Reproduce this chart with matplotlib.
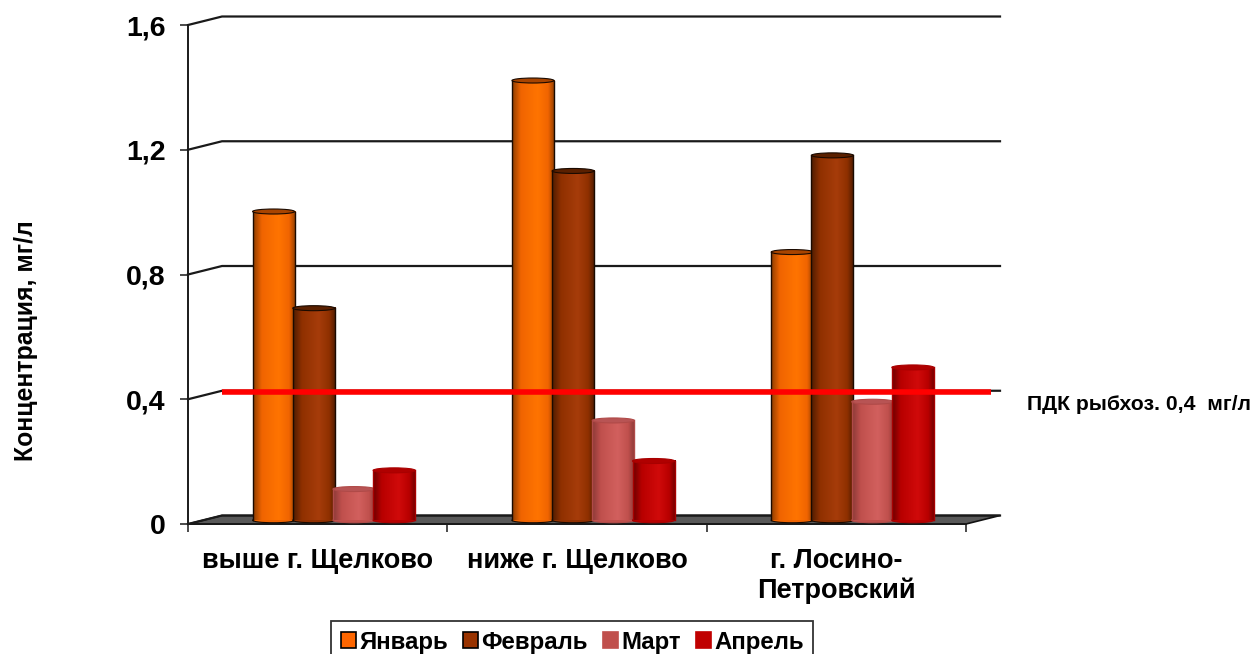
import matplotlib
matplotlib.use("Agg")
import matplotlib.pyplot as plt
from matplotlib.colors import LinearSegmentedColormap
from matplotlib.patches import Ellipse, Polygon, Patch
import numpy as np

plt.rcParams['font.family'] = ['Liberation Sans', 'DejaVu Sans']
plt.rcParams['font.weight'] = 'bold'

categories = ["выше г. Щелково", "ниже г. Щелково", "г. Лосино-\nПетровский"]
months = ["Январь", "Февраль", "Март", "Апрель"]
january = [0.99, 1.41, 0.86]
february = [0.68, 1.12, 1.17]
march = [0.10, 0.32, 0.38]
april = [0.16, 0.19, 0.49]
yticks = [0, 0.4, 0.8, 1.2, 1.6]
ytick_labels = ["0", "0,4", "0,8", "1,2", "1,6"]
pdk = 0.4

series = [january, february, march, april]
colors = ["#FF6600", "#993300", "#C0504D", "#C00000"]
ramps = [["#8F3E00", "#F06400", "#FF7400", "#F06400", "#8F3E00"],
         ["#4F1C00", "#8F3000", "#A63C0A", "#8F3000", "#4F1C00"],
         ["#8C3A38", "#C0504D", "#D2605E", "#C0504D", "#8C3A38"],
         ["#6E0000", "#B80000", "#D00A0A", "#B80000", "#6E0000"]]
ramp_pos = [0, 0.2, 0.6, 0.85, 1]
edges = ["#1A0A00", "#1A0A00", "#B04A48", "#A80000"]
top_colors = ["#A84400", "#5A2000", "#B85454", "#B00000"]

W, H = 1256, 654
fig = plt.figure(figsize=(W / 100, H / 100), dpi=100)
ax = fig.add_axes([188 / W, 1 - 524 / H, (966 - 188) / W, (524 - 25) / H])
ax.set_facecolor("none")

# depth of the fake 3d box, in data units
DX = 34 / 259.3
DY = 8.5 / 312
BAR_W = 0.162
BASE = 0.012
line_col = "#1A1A1A"

# floor
floor = Polygon([(0, 0), (3, 0), (3 + DX, DY), (DX, DY)], closed=True, fc="#595959", ec="#111111",
                lw=1.2, clip_on=False, zorder=1)
ax.add_patch(floor)

# back wall gridlines and the slanted bits on the side wall
for v in yticks:
    ax.plot([0, DX, 3 + DX], [v, v + DY, v + DY], color=line_col, lw=1.6, clip_on=False, zorder=1,
            solid_joinstyle="miter")

grad = np.linspace(0, 1, 64).reshape(1, -1)
for i, vals in enumerate(series):
    cmap = LinearSegmentedColormap.from_list("c%d" % i, list(zip(ramp_pos, ramps[i])))
    pos = np.arange(3) + 0.497 + DX / 2 + (i - 1.5) * 0.155
    z = 3 + i * 0.1
    ell_h = 5 / 312
    for x, v in zip(pos, vals):
        # bottom cap first, then the body with its gradient, then outline and top
        ax.add_patch(Ellipse((x, BASE), BAR_W, ell_h, fc=ramps[i][1], ec=edges[i], lw=0.8, zorder=z,
                             clip_on=False))
        im = ax.imshow(grad, extent=(x - BAR_W / 2, x + BAR_W / 2, BASE, BASE + v), aspect="auto",
                       cmap=cmap, zorder=z + 0.01, interpolation="bilinear")
        im.set_clip_on(False)
        for side in [-1, 1]:
            ax.plot([x + side * BAR_W / 2] * 2, [BASE, BASE + v], color=edges[i], lw=1.0, zorder=z + 0.02,
                    clip_on=False)
        ax.add_patch(Ellipse((x, BASE + v), BAR_W, ell_h, fc=top_colors[i], ec=edges[i], lw=0.8,
                             zorder=z + 0.03, clip_on=False))

# limit line
ax.plot([DX, 2.966 + DX], [pdk + 0.022, pdk + 0.022], color="#FF0000", lw=4, solid_capstyle="butt",
        zorder=5, clip_on=False)

ax.set_xlim(0, 3)
ax.set_ylim(0, 1.6)
ax.set_yticks(yticks)
ax.set_yticklabels(ytick_labels, fontsize=20.5, fontweight="bold")
ax.set_xticks([0, 1, 2, 3])
ax.set_xticklabels([])
ax.set_xticks([0.5, 1.5, 2.5], minor=True)
ax.set_xticklabels(categories, minor=True, fontsize=19.5, fontweight="bold", linespacing=1.2)
ax.tick_params(axis="x", which="minor", length=0, pad=17)
ax.tick_params(axis="x", which="major", length=6, width=1.1, color=line_col)
ax.tick_params(axis="y", length=6, width=1.1, color=line_col, pad=10)
for s in ["top", "right"]:
    ax.spines[s].set_visible(False)
for s in ["left", "bottom"]:
    ax.spines[s].set_color(line_col)
    ax.spines[s].set_linewidth(1.4)
    ax.spines[s].set_zorder(2)

fig.text(26 / W, 1 - 341 / H, "Концентрация, мг/л", rotation=90, ha="center", va="center", fontsize=17.8,
         fontweight="bold")
fig.text(1027 / W, 1 - 405 / H, "ПДК рыбхоз. 0,4  мг/л", ha="left", va="center", fontsize=15.2,
         fontweight="bold")

handles = [Patch(fc=colors[i], ec="black" if i < 2 else colors[i], lw=1.2) for i in range(4)]
leg = fig.legend(handles, months, loc="upper left", bbox_to_anchor=(331 / W, 1 - 621 / H), ncol=4,
                 frameon=True, fancybox=False, edgecolor="#333333", framealpha=1,
                 handlelength=0.65, handleheight=0.65, handletextpad=0.12, columnspacing=0.62,
                 borderpad=0.4, borderaxespad=0, prop={"weight": "bold", "size": 17.3})
leg.get_frame().set_linewidth(1.3)

plt.savefig("out.png", dpi=100)
